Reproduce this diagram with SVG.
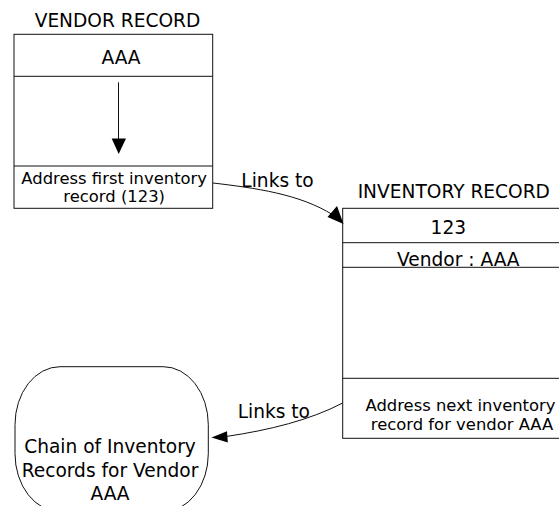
<svg xmlns="http://www.w3.org/2000/svg" width="559" height="506" viewBox="0 0 559 506">
<style>
text{font-family:"DejaVu Sans","Verdana",sans-serif;fill:#000;text-anchor:middle}
.big{font-size:18.6px}
.small{font-size:16.4px}
.box{fill:#fff;stroke:#111;stroke-width:1}
.ln{stroke:#111;stroke-width:1;fill:none}
.head{fill:#000;stroke:none}
</style>
<rect x="0" y="0" width="559" height="506" fill="#fff"/>
<g id="vendor-record">
<text class="big" x="117.5" y="26.7">VENDOR RECORD</text>
<rect class="box" x="14" y="34.3" width="198.7" height="174"/>
<line class="ln" x1="14" y1="76.3" x2="212.7" y2="76.3"/>
<line class="ln" x1="14" y1="166" x2="212.7" y2="166"/>
<text class="big" x="121" y="64">AAA</text>
<line class="ln" x1="118.5" y1="82.3" x2="118.5" y2="140"/>
<polygon class="head" points="111.7,138.5 126,138.5 118.7,154"/>
<text class="small" x="114.2" y="184.3">Address first inventory</text>
<text class="small" x="114.2" y="201.5">record (123)</text>
</g>
<g id="inventory-record">
<text class="big" x="453.8" y="198.3">INVENTORY RECORD</text>
<rect class="box" x="342.7" y="208.3" width="230" height="230"/>
<line class="ln" x1="342.7" y1="242.7" x2="559" y2="242.7"/>
<line class="ln" x1="342.7" y1="267.3" x2="559" y2="267.3"/>
<line class="ln" x1="342.7" y1="378.3" x2="559" y2="378.3"/>
<text class="big" x="448.3" y="234.3">123</text>
<text class="big" x="458.3" y="266.3">Vendor : AAA</text>
<text class="small" x="460.5" y="410.7">Address next inventory</text>
<text class="small" x="462" y="430">record for vendor AAA</text>
</g>
<g id="chain">
<rect class="box" x="15" y="366.7" width="193.3" height="145" rx="45" ry="58"/>
<text class="big" x="110" y="453.3">Chain of Inventory</text>
<text class="big" x="110" y="476.7">Records for Vendor</text>
<text class="big" x="110" y="499.8">AAA</text>
</g>
<g id="connectors">
<path class="ln" d="M213,183 C255,188 300,194 333,215"/>
<polygon class="head" points="343.5,224 327.5,217 337,206"/>
<text class="big" x="277.5" y="186.7">Links to</text>
<path class="ln" d="M342.7,403 C310,420 270,430 226,436.5"/>
<polygon class="head" points="211.5,437.5 227,431.3 227.8,442.5"/>
<text class="big" x="273.8" y="418.3">Links to</text>
</g>
</svg>
